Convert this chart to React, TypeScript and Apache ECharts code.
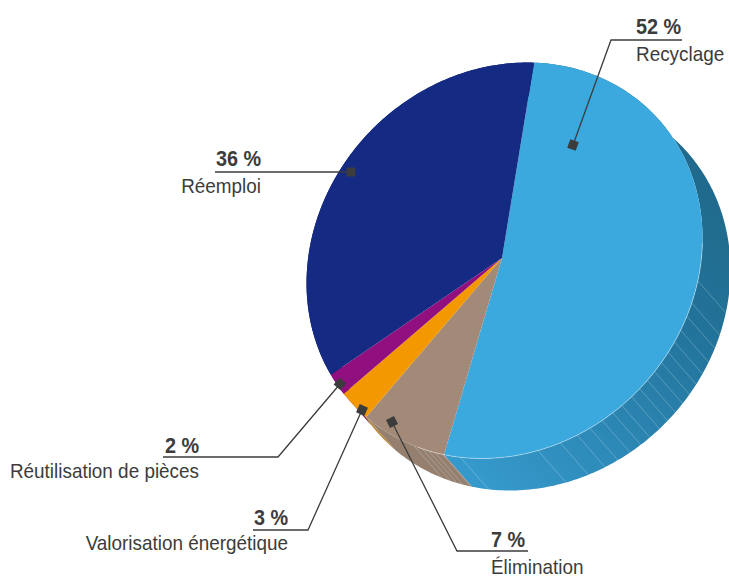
import React, { useEffect, useRef } from "react";
import * as echarts from "echarts";

const categories = ["Recyclage", "Élimination", "Valorisation énergétique", "Réutilisation de pièces", "Réemploi"];
const shares = [52, 7, 3, 2, 36];
const percentLabels = ["52 %", "7 %", "3 %", "2 %", "36 %"];
const sliceColors = ["#3ba9de", "#a38a78", "#f39800", "#920f7f", "#152a83"];
const sideColors = ["blue", "#957f6e", "#b98a3c", "#7a0d6a", "#10206a"];

// Tilted disc: ellipse seen in perspective, extruded towards the lower right
const DISC = { cx: 504.5, cy: 260.5, a: 209, b: 186.3 };
const APEX = { x: 502, y: 258 };
const EXTRUDE = { x: 28, y: 32 };
const START_T = -39.7;
// perspective correction of each slice's far edge, in degrees
const edgeNudge = [2, 3.3, 2.5, 2.3, 0];
const hatchFromCompass = [96, 102.8, 107, 111.6, 115.6, 119.3, 123, 126.5, 130, 133.5, 137, 141, 144.6, 148.6, 153, 157.4, 163, 170, 192.6, 197.7, 199.9, 201.7, 203.6, 206];

const leaders = [
  { pts: [[573, 145], [611, 40], [682, 40]], tx: 681, ty: 26, nx: 636, ny: 54, align: "left" },
  { pts: [[392, 422], [457, 551], [528, 551]], tx: 525, ty: 539, nx: 491, ny: 567, align: "left" },
  { pts: [[362, 410], [308, 530], [253, 530]], tx: 288, ty: 517, nx: 288, ny: 543, align: "right" },
  { pts: [[340, 384], [278, 457], [163, 457]], tx: 199, ty: 445, nx: 199, ny: 471, align: "right" },
  { pts: [[351, 172], [215, 172]], tx: 261, ty: 158, nx: 261, ny: 186, align: "right" },
];

const FONT = "'Liberation Sans', Arial, sans-serif";
const TEXT = "#3c3c3c";
const R = Math.SQRT1_2;

function rimPoint(tDeg: number) {
  const t = (tDeg * Math.PI) / 180;
  const u = DISC.a * Math.cos(t);
  const v = DISC.b * Math.sin(t);
  return [DISC.cx + (u + v) * R, DISC.cy + (v - u) * R];
}

function compassToT(compass: number) {
  // parameter of the rim point seen from the disc centre at this compass bearing
  const a = (compass * Math.PI) / 180;
  const dx = Math.sin(a), dy = -Math.cos(a);
  const u = (dx - dy) * R, v = (dx + dy) * R;
  let t = (Math.atan2(v / DISC.b, u / DISC.a) * 180) / Math.PI;
  if (t < -90) t += 360;
  return t;
}

function sliceRange(i: number) {
  let before = 0;
  for (let k = 0; k < i; k++) before += shares[k];
  const t0 = START_T + before * 3.6 + (i > 0 ? edgeNudge[i - 1] : 0);
  const t1 = START_T + (before + shares[i]) * 3.6 + edgeNudge[i];
  return [t0, t1];
}

function arc(t0: number, t1: number) {
  const pts: number[][] = [];
  const n = Math.max(2, Math.ceil(Math.abs(t1 - t0)));
  for (let i = 0; i <= n; i++) pts.push(rimPoint(t0 + ((t1 - t0) * i) / n));
  return pts;
}

export default function App() {
  const ref = useRef<HTMLDivElement>(null);
  useEffect(() => {
    const chart = echarts.init(ref.current!, undefined, { renderer: "svg" });
    const blueSide = new echarts.graphic.LinearGradient(700, 190, 470, 470, [
      { offset: 0, color: "#206b8d" },
      { offset: 0.3, color: "#22739a" },
      { offset: 1, color: "#3599cb" },
    ], true);

    const graphic: any[] = [];
    hatchFromCompass.forEach((c) => {
      const [x, y] = rimPoint(compassToT(c));
      graphic.push({ type: "line", z: 2, silent: true, shape: { x1: x, y1: y, x2: x + EXTRUDE.x, y2: y + EXTRUDE.y }, style: { stroke: "rgba(255,255,255,0.33)", lineWidth: 0.7 } });
    });
    graphic.push({ type: "polyline", z: 4, silent: true, shape: { points: arc(compassToT(85), compassToT(205)) }, style: { stroke: "rgba(255,255,255,0.5)", fill: "none", lineWidth: 0.8 } });
    leaders.forEach((l, i) => {
      graphic.push({ type: "polyline", z: 10, silent: true, shape: { points: l.pts }, style: { stroke: TEXT, lineWidth: 1.3, fill: "none" } });
      const [mx, my] = l.pts[0];
      const [nx, ny] = l.pts[1];
      graphic.push({ type: "rect", z: 11, silent: true, x: mx, y: my, rotation: -Math.atan2(ny - my, nx - mx), shape: { x: -4.5, y: -4.5, width: 9, height: 9 }, style: { fill: TEXT } });
      graphic.push({ type: "text", z: 11, silent: true, x: l.tx, y: l.ty, scaleX: 0.9, style: { text: percentLabels[i], fill: TEXT, font: `bold 22px ${FONT}`, align: "right", verticalAlign: "middle" } });
      graphic.push({ type: "text", z: 11, silent: true, x: l.nx, y: l.ny, scaleX: 0.9, style: { text: categories[i], fill: TEXT, font: `21px ${FONT}`, align: l.align, verticalAlign: "middle" } });
    });

    const front = (_: any, api: any) => {
      const i = api.value(1);
      const [t0, t1] = sliceRange(i);
      return { type: "polygon", shape: { points: [[APEX.x, APEX.y], ...arc(t0, t1)] }, style: { fill: sliceColors[i] } };
    };
    const side = (_: any, api: any) => {
      const i = api.value(1);
      const [t0, t1] = sliceRange(i);
      const a = arc(t0, t1);
      const b = a.map(([x, y]) => [x + EXTRUDE.x, y + EXTRUDE.y]).reverse();
      return { type: "polygon", shape: { points: [...a, ...b] }, style: { fill: i === 0 ? blueSide : sideColors[i] } };
    };
    const data = shares.map((v, i) => [v, i]);
    chart.setOption({
      animation: false,
      graphic,
      series: [
        { type: "custom", z: 1, silent: true, coordinateSystem: "none", renderItem: side, data },
        { type: "custom", z: 3, silent: true, coordinateSystem: "none", renderItem: front, data },
      ],
    });
    return () => chart.dispose();
  }, []);
  return <div ref={ref} style={{ position: "absolute", left: 0, top: 0, width: 729, height: 578 }} />;
}
